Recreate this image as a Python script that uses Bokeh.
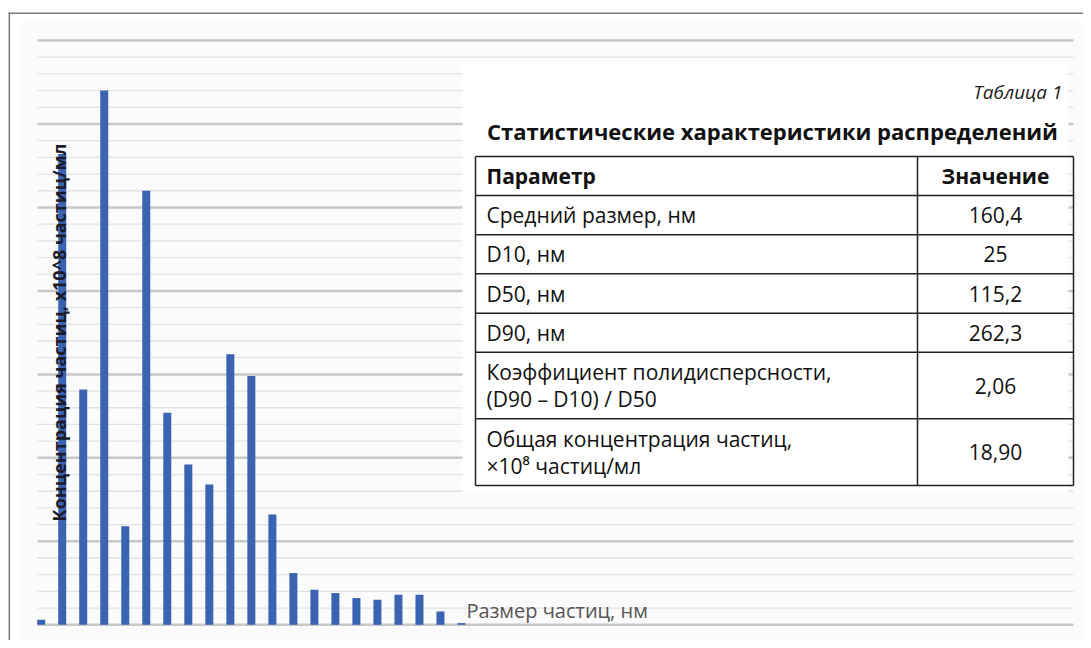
from bokeh.plotting import figure
from bokeh.embed import file_html
from bokeh.resources import INLINE
from bokeh.core.properties import value
import math

# ---------------- data ----------------
bins = list(range(1, 22))
conc = [0.03, 2.82, 1.41, 3.20, 0.59, 2.60, 1.27, 0.96, 0.84, 1.62, 1.49,
        0.66, 0.31, 0.21, 0.19, 0.16, 0.15, 0.18, 0.18, 0.08, 0.01]

y_label = "Концентрация частиц, х10^8 частиц/мл"
x_label = "Размер частиц, нм"
table_caption = "Таблица 1"
table_title = "Статистические характеристики распределений"
header = ["Параметр", "Значение"]
param_lines = [["Средний размер, нм"], ["D10, нм"], ["D50, нм"], ["D90, нм"],
               ["Коэффициент полидисперсности,", "(D90 – D10) / D50"],
               ["Общая концентрация частиц,", "×10⁸ частиц/мл"]]
values = ["160,4", "25", "115,2", "262,3", "2,06", "18,90"]

grid_max = 3.5
minor_step = 0.1
major_every = 5

# ---------------- layout (page pixels) ----------------
W, H = 1083, 640
OX, OY = 0, 0
x0_px, step_px = 40.7, 21.015
base_px, top_px = 624.3, 40.0
ppu = (base_px - top_px) / grid_max

xs = bins[0] - (x0_px - OX) / step_px
xe = xs + W / step_px
ys = -(OY + H - base_px) / ppu
ye = grid_max + (top_px - OY) / ppu


def dx(px):
    return xs + (px - OX) / W * (xe - xs)


def dy(py):
    return ye - (py - OY) / H * (ye - ys)


p = figure(width=W, height=H, x_range=(xs, xe), y_range=(ys, ye),
           output_backend="svg", toolbar_location=None,
           min_border=0, min_border_left=0, min_border_right=0,
           min_border_top=0, min_border_bottom=0)
p.axis.visible = False
p.xgrid.visible = False
p.ygrid.visible = False
p.outline_line_color = None
p.background_fill_color = "white"
p.border_fill_color = "white"

# faint background panel
p.quad(left=[dx(20)], right=[dx(1085)], top=[dy(20)], bottom=[dy(660)],
       fill_color="#fbfbfb", line_color=None)

# grid lines
n = int(round(grid_max / minor_step))
levels = [i * minor_step for i in range(n + 1)]
minor = [v for i, v in enumerate(levels) if i % major_every != 0]
major = [v for i, v in enumerate(levels) if i % major_every == 0]
gx0, gx1 = dx(37), dx(1073)
p.segment(x0=[gx0] * len(minor), x1=[gx1] * len(minor), y0=minor, y1=minor,
          line_color="#e2e2e2", line_width=1.3)
p.segment(x0=[gx0] * len(major), x1=[gx1] * len(major), y0=major, y1=major,
          line_color="#c8c8c8", line_width=2.5)

# bars
p.vbar(x=bins, top=conc, bottom=0, width=8 / step_px,
       fill_color="#3a63b1", line_color=None)

# white table panel
p.quad(left=[dx(462)], right=[dx(1068)], top=[dy(64)], bottom=[dy(492)],
       fill_color="white", line_color=None)

# frame border (left/top)
p.segment(x0=[dx(8.8)], x1=[dx(8.8)], y0=[dy(12)], y1=[dy(700)],
          line_color="#7a7a7a", line_width=1.5)
p.segment(x0=[dx(8)], x1=[dx(1200)], y0=[dy(12.7)], y1=[dy(12.7)],
          line_color="#7a7a7a", line_width=1.5)

# axis labels
p.text(x=[dx(58)], y=[dy(332)], text=[y_label], angle=math.pi / 2,
       text_align="center", text_baseline="middle",
       text_font=value("Open Sans"), text_font_style="bold",
       text_font_size="18px", text_color="#1b1b2a")
p.text(x=[dx(466)], y=[dy(610)], text=[x_label],
       text_align="left", text_baseline="middle",
       text_font=value("Open Sans"), text_font_size="20px",
       text_color="#555555")

# ---------------- table ----------------
t_left, t_mid, t_right = 475, 917, 1073
row_lines = [156, 195, 234.3, 273.3, 312.7, 351.7, 418.3, 485]
txt_left = 486
val_center = (t_mid + t_right) / 2
line_gap = 27
fs = "21px"

p.text(x=[dx(1062)], y=[dy(91)], text=[table_caption],
       text_align="right", text_baseline="middle",
       text_font=value("Open Sans"), text_font_style="italic",
       text_font_size="19px", text_color="#222222")
p.text(x=[dx(772)], y=[dy(130)], text=[table_title],
       text_align="center", text_baseline="middle",
       text_font=value("Open Sans"), text_font_style="bold",
       text_font_size="22px", text_color="#111111")

# borders
p.segment(x0=[dx(t_left)] * len(row_lines), x1=[dx(t_right)] * len(row_lines),
          y0=[dy(r) for r in row_lines], y1=[dy(r) for r in row_lines],
          line_color="#222222", line_width=1.5)
p.segment(x0=[dx(t_left), dx(t_mid), dx(t_right)],
          x1=[dx(t_left), dx(t_mid), dx(t_right)],
          y0=[dy(row_lines[0])] * 3, y1=[dy(row_lines[-1])] * 3,
          line_color="#222222", line_width=1.5)

hy = (row_lines[0] + row_lines[1]) / 2
p.text(x=[dx(txt_left)], y=[dy(hy)], text=[header[0]],
       text_align="left", text_baseline="middle",
       text_font=value("Open Sans"), text_font_style="bold",
       text_font_size=fs, text_color="#111111")
p.text(x=[dx(val_center)], y=[dy(hy)], text=[header[1]],
       text_align="center", text_baseline="middle",
       text_font=value("Open Sans"), text_font_style="bold",
       text_font_size=fs, text_color="#111111")

px_, py_, pt_ = [], [], []
vx_, vy_, vt_ = [], [], []
for i, lines in enumerate(param_lines):
    top_r, bot_r = row_lines[i + 1], row_lines[i + 2]
    cy = (top_r + bot_r) / 2
    k = len(lines)
    for j, ln in enumerate(lines):
        ly = cy + (j - (k - 1) / 2) * line_gap
        px_.append(dx(txt_left))
        py_.append(dy(ly))
        pt_.append(ln)
    vx_.append(dx(val_center))
    vy_.append(dy(cy))
    vt_.append(values[i])

p.text(x=px_, y=py_, text=pt_, text_align="left", text_baseline="middle",
       text_font=value("Open Sans"), text_font_size=fs, text_color="#111111")
p.text(x=vx_, y=vy_, text=vt_, text_align="center", text_baseline="middle",
       text_font=value("Open Sans"), text_font_size=fs, text_color="#111111")

open("out.html", "w").write(file_html(p, INLINE))
